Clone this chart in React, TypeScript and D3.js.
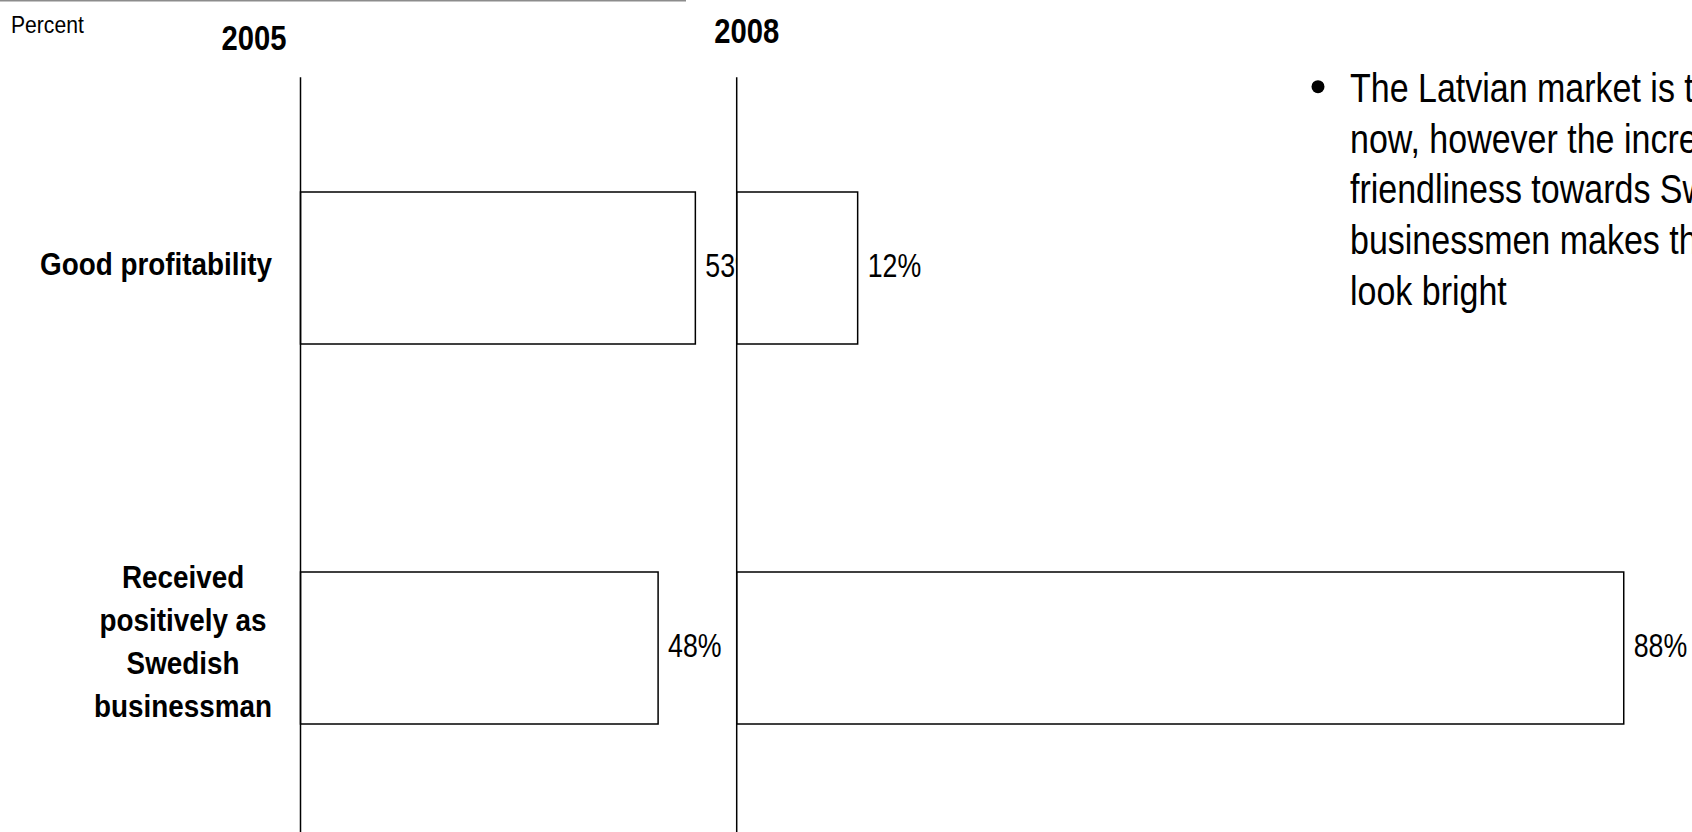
import React from "react";
import * as d3 from "d3";

const unitLabel = "Percent";
const categories = ["Good profitability", "Received positively as Swedish businessman"];
const categoryLines = [["Good profitability"], ["Received", "positively as", "Swedish", "businessman"]];
const years = ["2005", "2008"];
const values2005 = [53, 48];
const values2008 = [12, 88];
const valueLabels2005 = ["53%", "48%"];
const valueLabels2008 = ["12%", "88%"];
const bulletLines = [
  "The Latvian market is tough right",
  "now, however the increasing",
  "friendliness towards Swedish",
  "businessmen makes the future",
  "look bright",
];

const W = 1692;
const H = 832;
const FONT = '"Liberation Sans", Arial, sans-serif';

function measure(text: string, size: number, bold: boolean, sx: number) {
  const c = document.createElement("canvas").getContext("2d");
  if (!c) return text.length * size * 0.5 * sx;
  c.font = `${bold ? "bold " : ""}${size}px "Liberation Sans"`;
  return c.measureText(text).width * sx;
}

function T({ x, y, sx = 0.85, size, bold = false, anchor = "start", fill = "#000", children }: any) {
  return (
    <text
      transform={`translate(${x},${y}) scale(${sx},1)`}
      fontFamily={FONT}
      fontSize={size}
      fontWeight={bold ? "bold" : "normal"}
      textAnchor={anchor}
      fill={fill}
    >
      {children}
    </text>
  );
}

export default function App() {
  const y = d3.scaleBand<string>().domain(categories).range([78, 838]).paddingInner(0.6).paddingOuter(0.3);
  const bw = y.bandwidth();

  const panels = [
    { year: years[0], values: values2005, labels: valueLabels2005, x0: 300.5, ppu: 7.45, yearX: 254, yearY: 50, clipX: 0, clipW: 736 },
    { year: years[1], values: values2008, labels: valueLabels2008, x0: 736.7, ppu: 10.08, yearX: 746.7, yearY: 43.3, clipX: 736, clipW: W - 736 },
  ];

  const labelSize = 32;
  const labelSx = 0.87;
  const labelRight = 272;
  const lineGap = 43;

  return (
    <svg width={W} height={H} style={{ position: "absolute", left: 0, top: 0, display: "block", background: "#fff" }}>
      <defs>
        {panels.map((p, i) => (
          <clipPath id={`clip${i}`} key={i}>
            <rect x={p.clipX} y={0} width={p.clipW} height={H} />
          </clipPath>
        ))}
      </defs>
      <rect x={0} y={0} width={W} height={H} fill="#fff" />
      <line x1={0} x2={686} y1={0.75} y2={0.75} stroke="#8c8c8c" strokeWidth={1.5} />
      <T x={11} y={33} size={24} sx={0.88}>{unitLabel}</T>

      {categories.map((c, i) => {
        const lines = categoryLines[i];
        const maxW = d3.max(lines, (l) => measure(l, labelSize, true, labelSx)) || 0;
        const cx = labelRight - maxW / 2;
        const center = (y(c) || 0) + bw / 2;
        const firstBase = center + 7 - ((lines.length - 1) * lineGap) / 2 - (lines.length > 1 ? 3 : 0);
        return (
          <g key={c}>
            {lines.map((l, j) => (
              <T key={j} x={cx} y={firstBase + j * lineGap} size={labelSize} sx={labelSx} bold anchor="middle">
                {l}
              </T>
            ))}
          </g>
        );
      })}

      {panels.map((p, i) => {
        const x = d3.scaleLinear().domain([0, 100]).range([p.x0, p.x0 + 100 * p.ppu]);
        return (
          <g key={p.year}>
            <T x={p.yearX} y={p.yearY} size={35} sx={0.835} bold anchor="middle">{p.year}</T>
            <g clipPath={`url(#clip${i})`}>
              {categories.map((c, j) => (
                <g key={c}>
                  <rect
                    x={x(0)}
                    y={y(c)}
                    width={x(p.values[j]) - x(0)}
                    height={bw}
                    fill="#fff"
                    stroke="#000"
                    strokeWidth={1.5}
                  />
                  <T x={x(p.values[j]) + 10} y={(y(c) || 0) + bw / 2 + 9} size={33} sx={0.81}>
                    {p.labels[j]}
                  </T>
                </g>
              ))}
            </g>
            <line x1={x(0)} x2={x(0)} y1={77.3} y2={H} stroke="#000" strokeWidth={1.5} />
          </g>
        );
      })}

      <circle cx={1318} cy={86.7} r={6.5} fill="#000" />
      {bulletLines.map((l, i) => (
        <T key={i} x={1350} y={101.7 + i * 50.8} size={40} sx={0.85}>{l}</T>
      ))}
    </svg>
  );
}
